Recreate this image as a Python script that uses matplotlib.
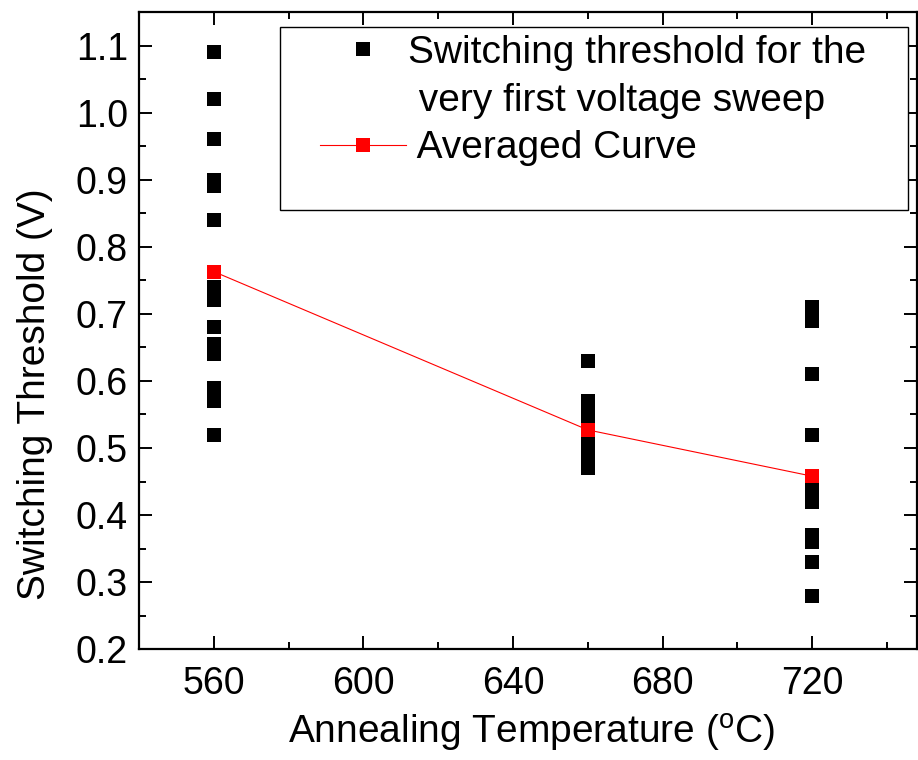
import matplotlib
matplotlib.use("Agg")
import matplotlib.pyplot as plt
from matplotlib.ticker import MultipleLocator, FormatStrFormatter
from matplotlib.patches import Rectangle

plt.rcParams['font.family'] = ['Liberation Sans', 'DejaVu Sans']
plt.rcParams['mathtext.default'] = 'regular'

# raw switching thresholds per annealing temperature
temp_560 = [1.09, 1.02, 0.96, 0.90, 0.89, 0.84, 0.74, 0.72, 0.68, 0.655, 0.64, 0.59, 0.57, 0.52]
temp_660 = [0.63, 0.57, 0.55, 0.54, 0.52, 0.50, 0.49, 0.47]
temp_720 = [0.71, 0.69, 0.61, 0.52, 0.44, 0.42, 0.37, 0.36, 0.33, 0.28]

temps = [560, 660, 720]
avg_vals = [0.763, 0.527, 0.458]

fig = plt.figure(figsize=(9.18, 7.6), dpi=100)
ax = fig.add_axes([0.1514, 0.1457, 0.8475, 0.8385])

xs = [560] * len(temp_560) + [660] * len(temp_660) + [720] * len(temp_720)
ys = temp_560 + temp_660 + temp_720
ax.plot(xs, ys, 's', color='black', ms=9.8, mew=0,
        label='Switching threshold for the')
# second line of the first legend entry, no handle
ax.plot([], [], ls='none', label=' very first voltage sweep')
ax.plot(temps, avg_vals, '-s', color='red', lw=0.8, ms=9.8, mew=0,
        label=' Averaged Curve')

ax.set_xlim(540, 748)
ax.set_ylim(0.2, 1.15)
ax.xaxis.set_major_locator(MultipleLocator(40))
ax.xaxis.set_minor_locator(MultipleLocator(20))
ax.yaxis.set_major_locator(MultipleLocator(0.1))
ax.yaxis.set_minor_locator(MultipleLocator(0.05))
ax.yaxis.set_major_formatter(FormatStrFormatter('%.1f'))

ax.tick_params(which='both', direction='in', top=True, right=True, width=1.4,
               labelsize=27)
ax.tick_params(axis='x', pad=12)
ax.tick_params(axis='y', pad=8)
ax.tick_params(which='major', length=9.6)
ax.tick_params(which='minor', length=4.8)
for sp in ax.spines.values():
    sp.set_linewidth(1.6)

ax.set_xlabel(r'Annealing Temperature ($^{o}$C)', fontsize=28)
ax.xaxis.set_label_coords(0.505, -0.098)
ax.set_ylabel('Switching Threshold (V)', fontsize=28)
ax.yaxis.set_label_coords(-0.11, 0.40)

# legend frame drawn by hand, legend itself without frame
ax.add_patch(Rectangle((280 / 918, 1 - 210 / 760), 628 / 918, 183 / 760,
                       transform=fig.transFigure, facecolor='white',
                       edgecolor='black', lw=1.0, clip_on=False, zorder=5))
leg = ax.legend(loc='upper left', bbox_to_anchor=(320 / 918, 1 - 35 / 760),
                bbox_transform=fig.transFigure, borderaxespad=0, borderpad=0,
                fontsize=28, frameon=False, handlelength=2.2,
                handletextpad=0.05, labelspacing=0.3)
leg.set_zorder(6)

fig.savefig('out.png', dpi=100)
